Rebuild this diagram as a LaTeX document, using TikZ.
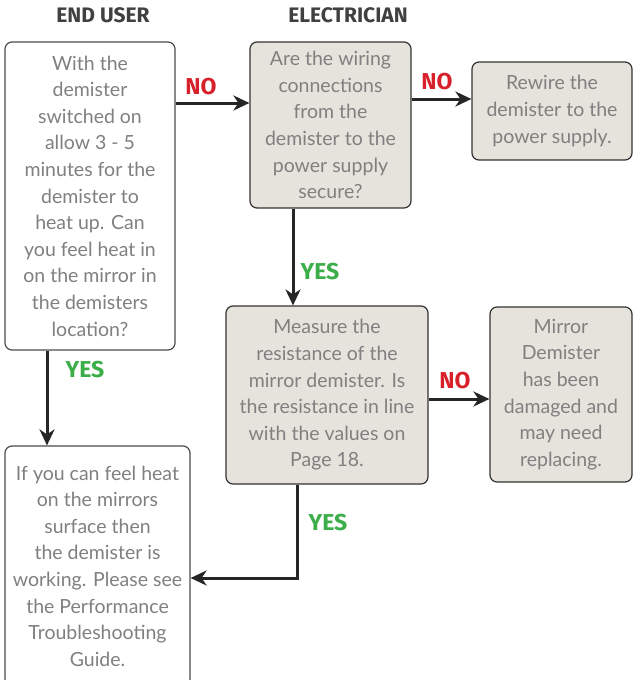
\documentclass[tikz,border=0pt]{standalone}
\usepackage{fontspec}
\setmainfont{Lato}
\newfontfamily\lblfont{Fira Sans}
\usetikzlibrary{arrows.meta,calc}
\definecolor{boxgray}{HTML}{E6E2DC}
\definecolor{txtgray}{HTML}{808080}
\definecolor{nored}{HTML}{D7202A}
\definecolor{yesgreen}{HTML}{3CAE49}
\tikzset{
  userbox/.style={draw=black!70, line width=1.2pt, rounded corners=7pt, fill=white, align=center,
    text=txtgray, font=\fontsize{19.5}{26.6}\selectfont, inner sep=0pt},
  elecbox/.style={userbox, draw=black!80, fill=boxgray},
  arr/.style={line width=3pt, draw=black!85, -{Stealth[length=16pt,width=15pt,inset=5pt]}},
  nolbl/.style={text=nored, font=\lblfont\fontsize{23}{23}\selectfont\bfseries},
  yeslbl/.style={text=yesgreen, font=\lblfont\fontsize{23}{23}\selectfont\bfseries},
  head/.style={text=black!75, font=\lblfont\fontsize{21}{21}\selectfont\bfseries}
}
\begin{document}
\begin{tikzpicture}[x=1pt,y=-1pt]
			%%%%% START %%%%%
			\useasboundingbox (0,0) rectangle (636,680);
			
			\node[head] (hUser) at (103,15) {END USER};
			\node[head] (hElec) at (348,15) {ELECTRICIAN};
			
			\node[userbox, minimum width=170pt, minimum height=308pt] (heat) at (90,196)
			  {With the\\demister\\switched on\\allow 3 - 5\\minutes for the\\demister to\\heat up. Can\\you feel heat in\\on the mirror in\\the demisters\\location?};
			\node[elecbox, minimum width=161pt, minimum height=166pt] (wiring) at (330.5,125)
			  {Are the wiring\\connections\\from the\\demister to the\\power supply\\secure?};
			\node[elecbox, minimum width=160pt, minimum height=98pt] (rewire) at (552,111)
			  {Rewire the\\demister to the\\power supply.};
			\node[elecbox, minimum width=202pt, minimum height=178pt] (measure) at (327,395)
			  {Measure the\\resistance of the\\mirror demister. Is\\the resistance in line\\with the values on\\Page 18.};
			\node[elecbox, minimum width=142pt, minimum height=175pt] (damaged) at (561,394.5)
			  {Mirror\\Demister\\has been\\damaged and\\may need\\replacing.};
			\node[userbox, minimum width=185pt, minimum height=240pt] (working) at (97.5,566)
			  {If you can feel heat\\on the mirrors\\surface then\\the demister is\\working. Please see\\the Performance\\Troubleshooting\\Guide.};
			
			% connectors
			\coordinate (c1) at ([yshift=93]heat.east);
			\draw[arr] (c1) -- (c1 -| wiring.west);
			\coordinate (c2) at ([yshift=26]wiring.east);
			\draw[arr] (c2) -- (c2 -| rewire.west);
			\coordinate (c3) at ([xshift=-37.5]wiring.south);
			\draw[arr] (c3) -- (c3 |- measure.north);
			\coordinate (c4) at ([xshift=-43]heat.south);
			\draw[arr] (c4) -- (c4 |- working.north);
			\coordinate (c5) at ([yshift=-4]measure.east);
			\draw[arr] (c5) -- (c5 -| damaged.west);
			\coordinate (c6) at ([xshift=-30]measure.south);
			\coordinate (c7) at ([yshift=-12]working.east);
			\draw[arr] (c6) |- (c7);
			
			\node[nolbl] (no1) at (201,87) {NO};
			\node[nolbl] (no2) at (437,82) {NO};
			\node[nolbl] (no3) at (455,381) {NO};
			\node[yeslbl] (yes1) at (320,272) {YES};
			\node[yeslbl] (yes2) at (85,370) {YES};
			\node[yeslbl] (yes3) at (328,523) {YES};
			%%%%% END %%%%%
\end{tikzpicture}
\end{document}
